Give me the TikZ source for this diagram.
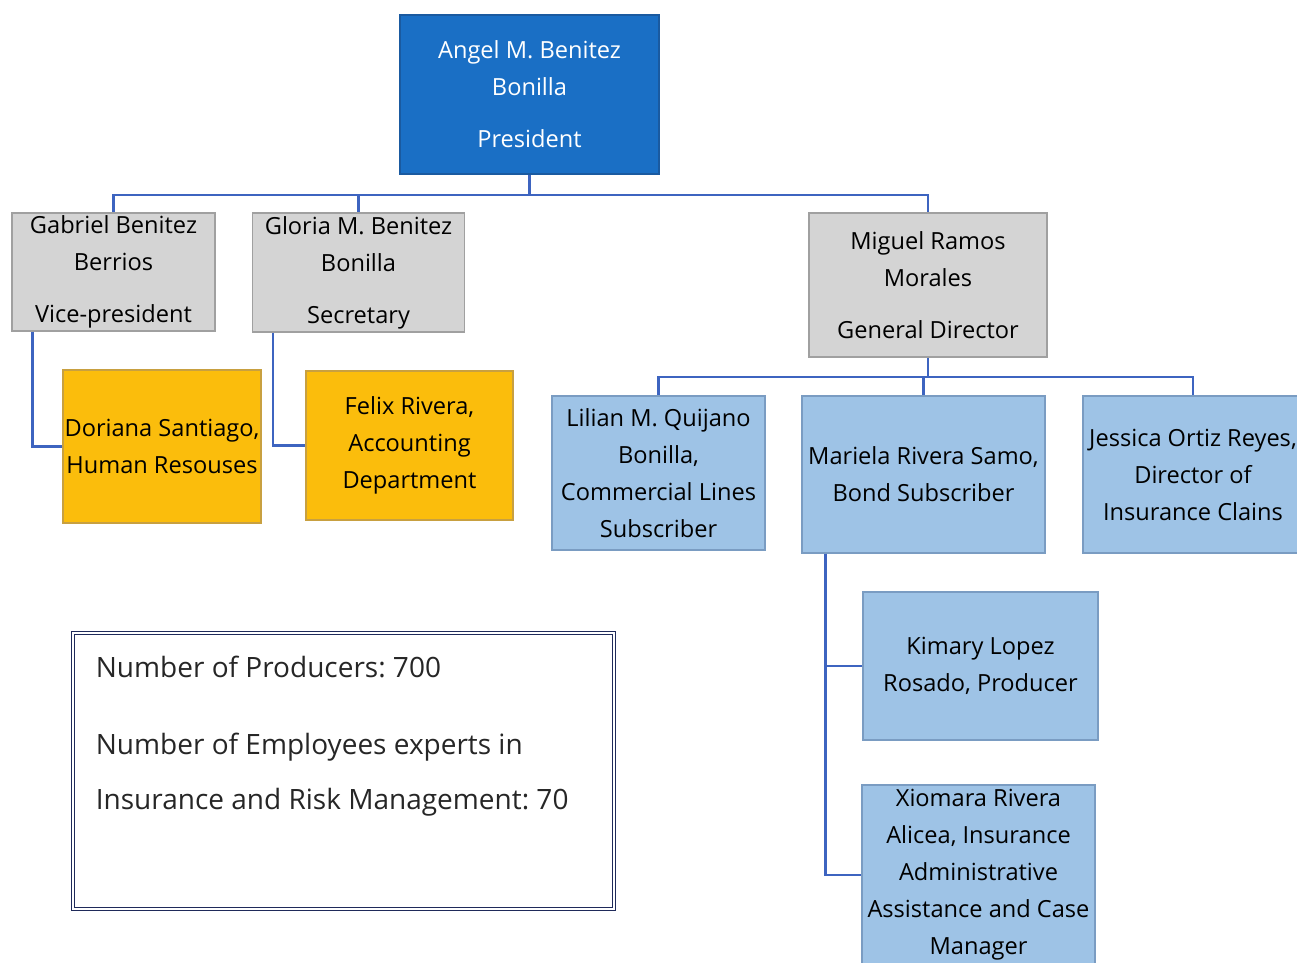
\documentclass[tikz,border=0pt]{standalone}
\usepackage{fontspec}
\setmainfont{Open Sans}
\usetikzlibrary{positioning}
\definecolor{presblue}{HTML}{1A6FC5}
\definecolor{presedge}{HTML}{1A5AA0}
\definecolor{greyfill}{HTML}{D4D4D4}
\definecolor{greyedge}{HTML}{A0A0A0}
\definecolor{goldfill}{HTML}{FBBD0C}
\definecolor{goldedge}{HTML}{C8A040}
\definecolor{skyfill}{HTML}{9EC3E6}
\definecolor{skyedge}{HTML}{7A9CC2}
\definecolor{linkblue}{HTML}{3D64C0}
\definecolor{navyedge}{HTML}{1F2A5A}
\tikzset{every picture/.style={line width=0.75pt}}
\frenchspacing

\begin{document}
\begin{tikzpicture}[x=1pt,y=1pt,yscale=-1,xscale=1,
  orgbox/.style={draw, rectangle, inner sep=0pt, align=center,
    line width=1.2pt, font=\fontsize{23.6}{37}\selectfont},
  presbox/.style={orgbox, fill=presblue, draw=presedge, text=white},
  greybox/.style={orgbox, fill=greyfill, draw=greyedge},
  goldbox/.style={orgbox, fill=goldfill, draw=goldedge},
  skybox/.style={orgbox, fill=skyfill, draw=skyedge},
  link/.style={draw=linkblue, line width=2.3pt}]
\useasboundingbox (0,0) rectangle (1297,962);
%Shape: Rectangle [id:president]
\node (pres) [presbox, minimum width=259, minimum height=159] at (529.5,94.5) {Angel M. Benitez\\Bonilla\\[15pt]President};
%Shape: Rectangle [id:vice]
\node (gab) [greybox, minimum width=203, minimum height=118] at (113.5,272) {Gabriel Benitez\\Berrios\\[15pt]Vice-president};
%Shape: Rectangle [id:secretary]
\node (glo) [greybox, minimum width=212, minimum height=119] at (358.5,272.5) {Gloria M. Benitez\\Bonilla\\[15pt]Secretary};
%Shape: Rectangle [id:director]
\node (mig) [greybox, minimum width=238, minimum height=144] at (928,285) {Miguel Ramos\\Morales\\[15pt]General Director};
%Shape: Rectangle [id:hr]
\node (dor) [goldbox, minimum width=198, minimum height=153] at (162,446.5) {Doriana Santiago,\\Human Resouses};
%Shape: Rectangle [id:accounting]
\node (fel) [goldbox, minimum width=207, minimum height=149] at (409.5,445.5) {Felix Rivera,\\Accounting\\Department};
%Shape: Rectangle [id:commercial]
\node (lil) [skybox, minimum width=213, minimum height=154] at (658.5,473) {Lilian M. Quijano\\Bonilla,\\Commercial Lines\\Subscriber};
%Shape: Rectangle [id:bond]
\node (mar) [skybox, minimum width=243, minimum height=157] at (923.5,474.5) {Mariela Rivera Samo,\\Bond Subscriber};
%Shape: Rectangle [id:claims]
\node (jes) [skybox, minimum width=220, minimum height=157] at (1193,474.5) {Jessica Ortiz Reyes,\\Director of\\Insurance Clains};
%Shape: Rectangle [id:producer]
\node (kim) [skybox, minimum width=235, minimum height=148] at (980.5,666) {Kimary Lopez\\Rosado, Producer};
%Shape: Rectangle [id:assistant]
\node (xio) [skybox, minimum width=233, minimum height=180] at (978.5,875) {Xiomara Rivera\\Alicea, Insurance\\Administrative\\Assistance and Case\\Manager};
%Shape: Rectangle [id:info]
\node (info) [draw=navyedge, double=white, double distance=1.5pt, line width=1pt,
  minimum width=541, minimum height=276, inner sep=0pt] at (343.5,771) {};
% Text Node
\node (infotxt) [anchor=north west, align=left, inner sep=0pt, text=black!85,
  font=\fontsize{28}{55}\selectfont] at ([shift={(23,23)}]info.north west)
  {Number of Producers: 700\\[22pt]Number of Employees experts in\\Insurance and Risk Management: 70};
%Straight Lines [id:links]
\coordinate (bus) at (529.5,195);
\coordinate (subbus) at (928,377);
\draw [link] (pres.south) -- (bus);
\draw [link] (bus) -| (gab.north);
\draw [link] (bus) -| (glo.north);
\draw [link] (bus) -| (mig.north);
\draw [link] ([xshift=21]gab.south west) |- (dor.west);
\draw [link] ([xshift=21]glo.south west) |- (fel.west);
\draw [link] (mig.south) -- (subbus);
\draw [link] (subbus) -| (lil.north);
\draw [link] (subbus) -| (mar.north);
\draw [link] (subbus) -| (jes.north);
\draw [link] ([xshift=24]mar.south west) |- (kim.west);
\draw [link] ([xshift=24]mar.south west) |- (xio.west);
\end{tikzpicture}
\end{document}
